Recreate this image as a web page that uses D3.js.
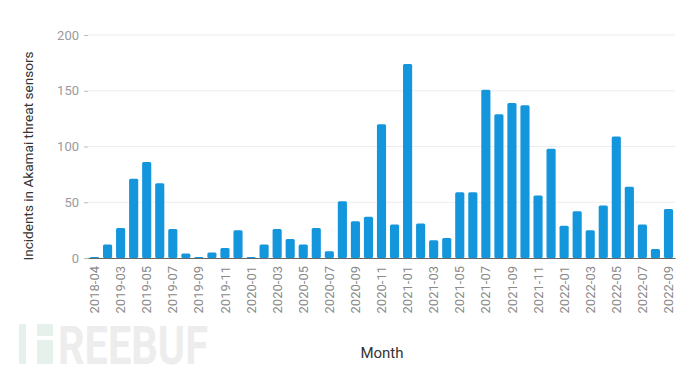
<!DOCTYPE html>
<html><head><meta charset="utf-8">
<script src="https://cdn.jsdelivr.net/npm/d3@7"></script>
<style>body{margin:0;background:#fff;}svg{display:block;font-family:Roboto,"Open Sans",sans-serif;}</style>
</head><body>
<svg id="c" width="690" height="372"></svg>
<script>
const months = ["2018-04","2019-02","2019-03","2019-04","2019-05","2019-06","2019-07","2019-08","2019-09","2019-10","2019-11","2019-12",
"2020-01","2020-02","2020-03","2020-04","2020-05","2020-06","2020-07","2020-08","2020-09","2020-10","2020-11","2020-12",
"2021-01","2021-02","2021-03","2021-04","2021-05","2021-06","2021-07","2021-08","2021-09","2021-10","2021-11","2021-12",
"2022-01","2022-02","2022-03","2022-04","2022-05","2022-06","2022-07","2022-08","2022-09"];
const incidents = [1,12,27,71,86,67,26,4,1,5,9,25,
1,12,26,17,12,27,6,51,33,37,120,30,
174,31,16,18,59,59,151,129,139,137,56,98,
29,42,25,47,109,64,30,8,44];
const yTicks = [0,50,100,150,200];
const yTitle = "Incidents in Akamai threat sensors";
const xTitle = "Month";

const svg = d3.select("#c");
const x = d3.scaleBand().domain(months).range([88,675]).paddingInner(0.3).paddingOuter(0.15);
const y = d3.scaleLinear().domain([0,200]).range([258,35]);

// watermark
const wm = svg.append("g");
wm.append("rect").attr("x",19).attr("y",324).attr("width",7).attr("height",40).attr("fill","#e6f1ec");
wm.append("rect").attr("x",37).attr("y",324).attr("width",16).attr("height",12).attr("fill","#e6f1ec");
wm.append("rect").attr("x",37).attr("y",340).attr("width",16).attr("height",24).attr("fill","#e6f1ec");
wm.append("text").attr("x",58).attr("y",364).attr("font-size",54).attr("font-weight","bold")
  .attr("textLength",150).attr("lengthAdjust","spacingAndGlyphs")
  .attr("fill","#ededed").attr("font-family","Roboto, sans-serif").text("REEBUF");

// gridlines
svg.append("g").selectAll("line").data(yTicks.filter(d=>d>0)).join("line")
  .attr("x1",88).attr("x2",675).attr("y1",d=>y(d)).attr("y2",d=>y(d))
  .attr("stroke","#ececec").attr("stroke-width",1);

// y axis
const ya = svg.append("g").attr("transform","translate(88,0)")
  .call(d3.axisLeft(y).tickValues(yTicks).tickSize(4).tickPadding(5));
ya.select(".domain").remove();
ya.selectAll(".tick line").attr("stroke","#bbb");
ya.selectAll("text").attr("fill","#9a9a9a").attr("font-size",13).attr("font-family","Roboto, sans-serif");

// bars
svg.append("g").selectAll("rect").data(months).join("rect")
  .attr("x",d=>x(d)).attr("width",x.bandwidth())
  .attr("y",(d,i)=>y(incidents[i])).attr("height",(d,i)=>y(0)-y(incidents[i]))
  .attr("rx",1.5).attr("fill","#1496dc");

// x axis
const xa = svg.append("g").attr("transform","translate(0,258)")
  .call(d3.axisBottom(x).tickValues(months.filter((d,i)=>i%2===0)).tickSize(0).tickPadding(7));
xa.select(".domain").attr("stroke","#666").attr("stroke-width",1);
xa.selectAll("text").attr("fill","#8a8a8a").attr("font-size",13).attr("font-family","Roboto, sans-serif")
  .attr("text-anchor","end").attr("dy","0.35em").attr("dx",0)
  .attr("transform",function(){return "translate(0,"+(+d3.select(this).attr("y"))+") rotate(-90)";})
  .attr("y",0).attr("x",-1);

// titles
svg.append("text").attr("transform","translate(33,156) rotate(-90)").attr("text-anchor","middle")
  .attr("font-size",13.6).attr("fill","#333").text(yTitle);
svg.append("text").attr("x",382).attr("y",358).attr("text-anchor","middle")
  .attr("font-size",15).attr("fill","#333").text(xTitle);
</script>
</body></html>
